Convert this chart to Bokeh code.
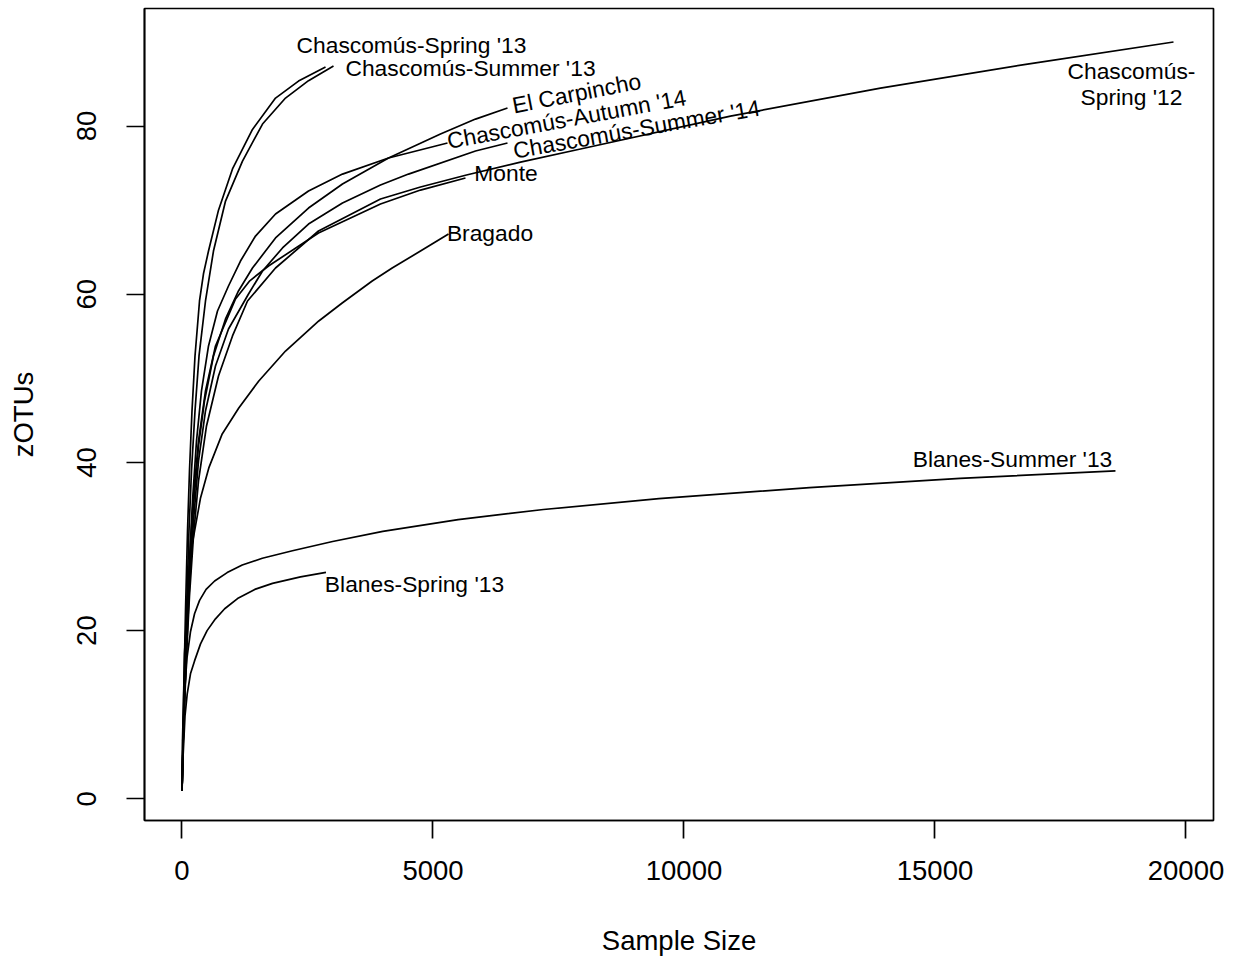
from bokeh.plotting import figure
from bokeh.models import ColumnDataSource, Range1d, FixedTicker
from bokeh.embed import file_html
from bokeh.resources import INLINE
from bokeh.core.properties import value

# ---- rarefaction curves (sample size -> zOTUs) ----
chasc_spring13_n = [1, 16, 40, 70, 110, 149, 199, 259, 349, 430, 528, 727, 1006, 1404, 1863, 2321, 2859]
chasc_spring13_s = [1, 6.89, 14.03, 22.35, 31.86, 38.99, 46.12, 52.66, 59.20, 62.5, 65.14, 70.0, 74.9, 79.6, 83.33, 85.35, 87.01]

chasc_summer13_n = [1, 20, 50, 90, 139, 189, 259, 339, 468, 627, 867, 1205, 1604, 2062, 2520, 3018]
chasc_summer13_s = [1, 6.89, 14.03, 22.35, 31.86, 38.99, 46.12, 52.66, 59.20, 65.14, 71.08, 75.84, 80.24, 83.33, 85.4, 87.13]

el_carpincho_n = [1, 20, 50, 90, 149, 229, 329, 448, 627, 867, 1125, 1404, 1863, 2520, 3197, 4114, 5149, 5847, 6484]
el_carpincho_s = [1, 6.30, 11.65, 18.78, 27.10, 34.83, 41.96, 47.31, 52.66, 57.06, 60.39, 63.12, 66.69, 70.25, 73.11, 76.20, 79.05, 80.83, 82.14]

chasc_autumn14_n = [1, 20, 50, 90, 149, 209, 289, 388, 528, 707, 926, 1165, 1464, 1863, 2520, 3197, 4114, 5289]
chasc_autumn14_s = [1, 6.89, 12.84, 19.97, 28.29, 35.42, 42.56, 48.50, 53.85, 58.01, 60.98, 63.95, 66.92, 69.54, 72.27, 74.29, 76.20, 77.98]

chasc_summer14_n = [1, 20, 50, 90, 149, 229, 329, 468, 667, 926, 1325, 1604, 2002, 2520, 3197, 3954, 4512, 5847, 6484]
chasc_summer14_s = [1, 6.30, 11.65, 17.59, 25.32, 33.05, 40.18, 46.12, 51.47, 55.87, 60.03, 62.76, 65.50, 68.35, 70.85, 72.99, 74.29, 77.03, 77.98]

monte_n = [1, 20, 50, 90, 149, 229, 329, 468, 667, 1066, 1350, 1723, 2719, 3954, 4751, 5647]
monte_s = [1, 6.30, 12.84, 19.97, 28.29, 36.02, 42.56, 48.50, 53.85, 59.44, 61.6, 63.36, 67.28, 70.73, 72.39, 73.82]

bragado_n = [1, 10, 30, 50, 104, 169, 269, 369, 534, 801, 1131, 1530, 2062, 2725, 3191, 3789, 4187, 4751, 5309]
bragado_s = [1, 6.89, 11.65, 17.24, 23.18, 29.12, 32.45, 35.78, 39.35, 43.39, 46.48, 49.69, 53.25, 56.82, 58.96, 61.57, 63.12, 65.14, 67.16]

chasc_spring12_n = [1, 20, 50, 90, 149, 229, 329, 488, 727, 1006, 1305, 1863, 2719, 3954, 4751, 5667, 6743, 7938, 10926, 13914, 16842, 19751]
chasc_spring12_s = [1, 5.94, 11.05, 17.00, 24.13, 31.26, 37.80, 44.34, 50.28, 55.04, 59.20, 63.12, 67.52, 71.32, 72.75, 74.18, 75.72, 77.27, 81.19, 84.52, 87.37, 90.00]

blanes_summer13_n = [1, 20, 50, 100, 170, 250, 350, 480, 650, 900, 1200, 1600, 2200, 3000, 4000, 5500, 7200, 9500, 12500, 15500, 18595]
blanes_summer13_s = [1, 6.9, 12.5, 16.8, 19.9, 22.0, 23.6, 24.9, 25.9, 26.9, 27.8, 28.6, 29.5, 30.6, 31.8, 33.2, 34.4, 35.7, 37.0, 38.1, 39.0]

blanes_spring13_n = [1, 24, 60, 104, 169, 250, 369, 500, 667, 850, 1125, 1450, 1803, 2361, 2868]
blanes_spring13_s = [1, 5.35, 9.87, 12.48, 14.86, 16.4, 18.42, 20.0, 21.40, 22.6, 23.89, 24.9, 25.62, 26.39, 26.92]

# ---- sample labels (text anchors in data units) ----
label_text = ["Chascomús-Spring '13", "Chascomús-Summer '13", "El Carpincho",
              "Chascomús-Autumn '14", "Chascomús-Summer '14", "Monte", "Bragado",
              "Chascomús-\nSpring '12", "Blanes-Summer '13", "Blanes-Spring '13"]
label_n = [4572, 5747, 7859, 7660, 9056, 6454, 6135, 18914, 16545, 4631]
label_s = [89.63, 86.89, 83.92, 80.83, 79.64, 74.41, 67.28, 84.99, 40.42, 25.56]
label_angle = [0, 0, 11, 10.5, 10, 0, 0, 0, 0, 0]

# ---- axes ----
x_ticks = [0, 5000, 10000, 15000, 20000]
x_tick_labels = ["0", "5000", "10000", "15000", "20000"]
y_ticks = [0, 20, 40, 60, 80]
y_tick_labels = ["0", "20", "40", "60", "80"]

curves = [
    (chasc_spring13_n, chasc_spring13_s),
    (chasc_summer13_n, chasc_summer13_s),
    (el_carpincho_n, el_carpincho_s),
    (chasc_autumn14_n, chasc_autumn14_s),
    (chasc_summer14_n, chasc_summer14_s),
    (monte_n, monte_s),
    (bragado_n, bragado_s),
    (chasc_spring12_n, chasc_spring12_s),
    (blanes_summer13_n, blanes_summer13_s),
    (blanes_spring13_n, blanes_spring13_s),
]

FONT = "Liberation Sans"
LW = 1.7

p = figure(width=1225, height=958,
           x_range=Range1d(-747, 20548), y_range=Range1d(-2.58, 93.98),
           output_backend="svg", toolbar_location=None,
           min_border_left=144, min_border_right=12,
           min_border_top=8, min_border_bottom=138)

p.background_fill_color = "white"
p.border_fill_color = "white"
p.outline_line_color = "black"
p.outline_line_width = LW
p.xgrid.visible = False
p.ygrid.visible = False

for n, s in curves:
    p.line(n, s, line_color="black", line_width=LW, line_join="round")

src = ColumnDataSource(dict(x=label_n, y=label_s, t=label_text, a=label_angle))
p.text(x="x", y="y", text="t", angle="a", angle_units="deg", source=src,
       text_font=value(FONT), text_font_size="22.8px", text_color="black",
       text_align="center", text_baseline="middle", text_line_height=1.0)

for ax, ticks, labels, title in ((p.xaxis[0], x_ticks, x_tick_labels, "Sample Size"),
                                 (p.yaxis[0], y_ticks, y_tick_labels, "zOTUs")):
    ax.ticker = FixedTicker(ticks=ticks)
    ax.major_label_overrides = {t: l for t, l in zip(ticks, labels)}
    ax.minor_tick_line_color = None
    ax.major_tick_in = 0
    ax.major_tick_out = 18
    ax.major_tick_line_width = LW
    ax.major_tick_line_color = "black"
    ax.axis_line_color = "black"
    ax.axis_line_width = LW
    ax.major_label_text_font = FONT
    ax.major_label_text_font_size = "27.5px"
    ax.major_label_text_color = "black"
    ax.axis_label = title
    ax.axis_label_text_font = FONT
    ax.axis_label_text_font_size = "27.5px"
    ax.axis_label_text_font_style = "normal"
    ax.axis_label_text_color = "black"

p.xaxis[0].major_label_standoff = 22
p.xaxis[0].axis_label_standoff = 42
p.yaxis[0].major_label_orientation = "parallel"
p.yaxis[0].major_label_standoff = 30
p.yaxis[0].axis_label_standoff = 36

with open("out.html", "w", encoding="utf-8") as f:
    f.write(file_html(p, INLINE))
